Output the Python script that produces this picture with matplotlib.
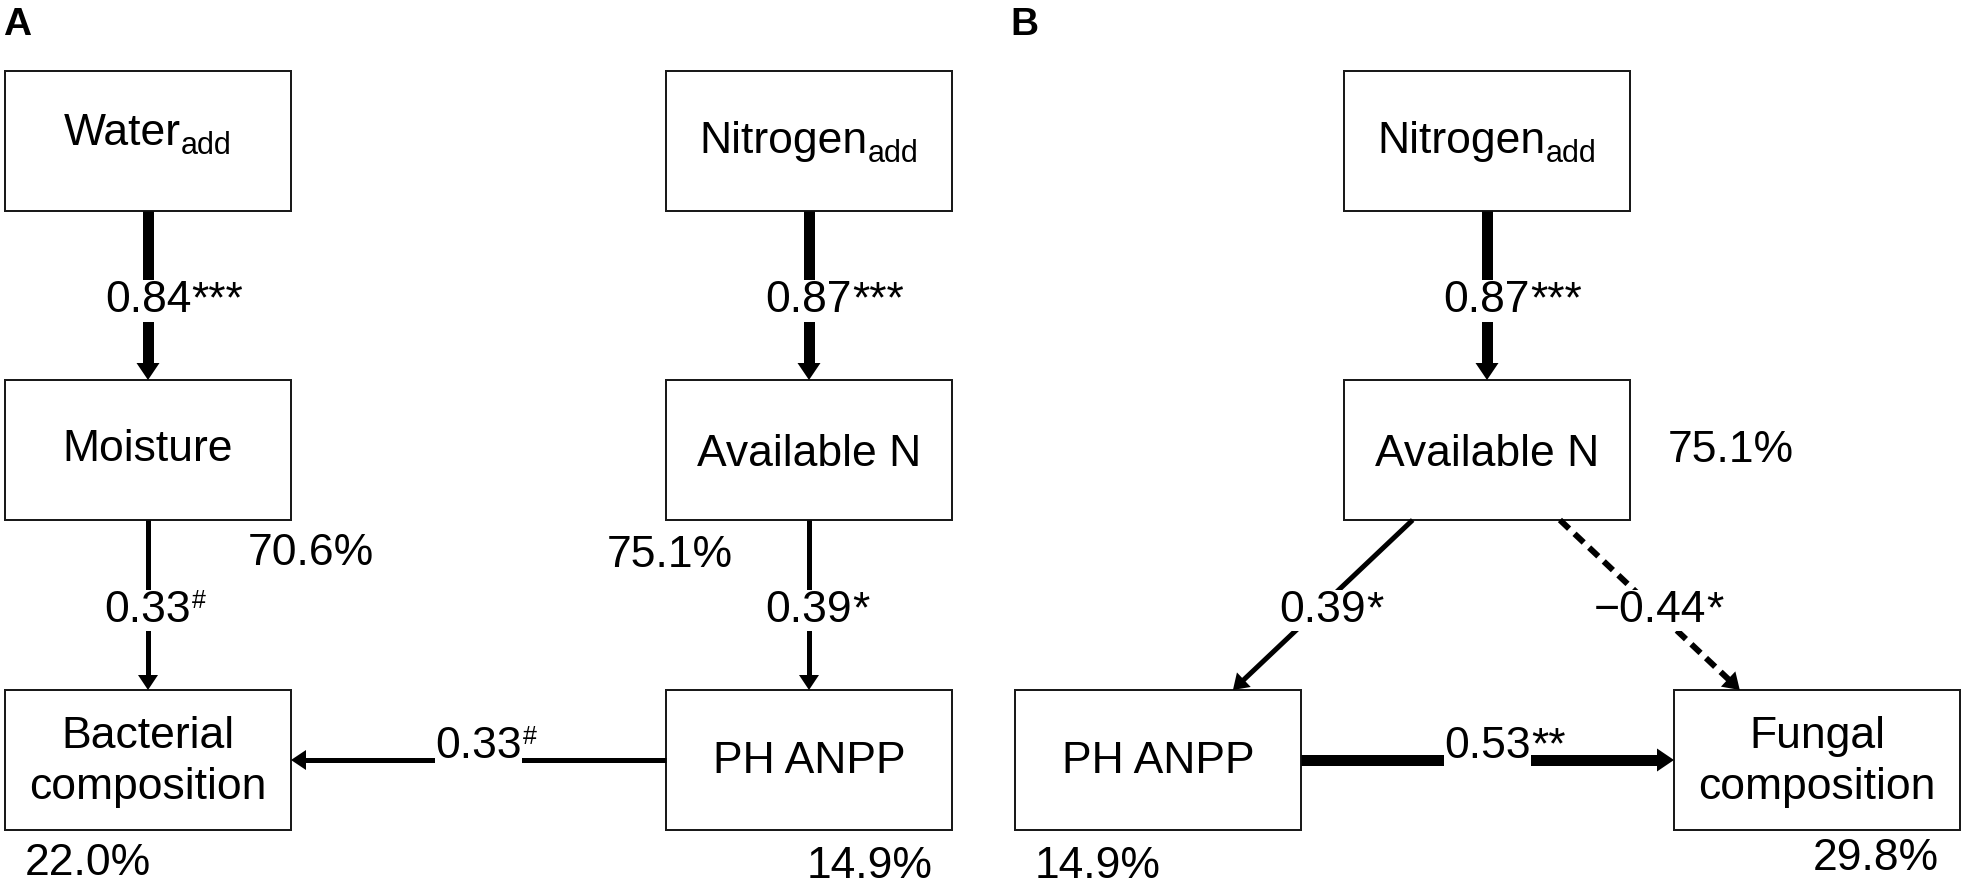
import matplotlib
matplotlib.use("Agg")
import matplotlib.pyplot as plt
from matplotlib.patches import Rectangle, Polygon
import numpy as np

plt.rcParams['font.family'] = ['Liberation Sans', 'DejaVu Sans']

W, H = 1964, 885

# ---------------- data ----------------
panel_letters = ["A", "B"]

node_names = ["Water", "Moisture", "Bacterial\ncomposition",
              "Nitrogen", "Available N", "PH ANPP",
              "Nitrogen", "Available N", "PH ANPP",
              "Fungal\ncomposition"]
node_subs = ["add", "", "", "add", "", "", "add", "", "", ""]

# explained variance (R2) labels
r2_text = ["70.6%", "22.0%", "75.1%", "14.9%", "75.1%", "14.9%", "29.8%"]

# paths: from-node, to-node, coefficient, significance
path_from = [0, 1, 5, 3, 4, 6, 7, 7, 8]
path_to = [1, 2, 2, 4, 5, 7, 8, 9, 9]
path_coef = ["0.84", "0.33", "0.33", "0.87", "0.39", "0.87", "0.39", "\u22120.44", "0.53"]
path_sig = ["***", "#", "#", "***", "*", "***", "*", "*", "**"]

# ---------------- layout (positions / styles) ----------------
BW, BH = 286, 140
node_left = [5, 5, 5, 666, 666, 666, 1344, 1344, 1015, 1674]
node_top = [71, 380, 690, 71, 380, 690, 71, 380, 690, 690]
node_text_dy = [74, 81, 58, 82, 86, 83, 82, 86, 83, 58]
line_gap = 51

panel_letter_pos = [(3, 35), (1010, 35)]
r2_pos = [(248, 565), (25, 875), (607, 567), (807, 878),
          (1668, 462), (1035, 878), (1813, 870)]

path_start = [("bottom", 0.5), ("bottom", 0.5), ("left", 0.5), ("bottom", 0.5),
              ("bottom", 0.5), ("bottom", 0.5), ("bottom", 0.24), ("bottom", 0.755),
              ("right", 0.5)]
path_end = [("top", 0.5), ("top", 0.5), ("right", 0.5), ("top", 0.5),
            ("top", 0.5), ("top", 0.5), ("top", 0.762), ("top", 0.23),
            ("left", 0.5)]
path_style = ["thick", "thin", "thin", "thick", "thin", "thick", "thin", "dashed", "thick"]

PX = 0.72  # points per pixel at dpi=100
style_lw = {"thick": 11, "thin": 5, "dashed": 6}
style_head = {"thick": (17, 11.5), "thin": (15, 10), "dashed": (16, 10.5)}

FS = 32       # main font size (pt)
FS_SUB = 22   # subscript
FS_SUP = 18   # small superscript '#'
CAP = 32      # cap height px

fig = plt.figure(figsize=(W / 100, H / 100), dpi=100)
ax = fig.add_axes([0, 0, 1, 1])
ax.set_xlim(0, W)
ax.set_ylim(H, 0)
ax.axis('off')


def anchor(i, side, frac):
    l, t = node_left[i], node_top[i]
    if side == "bottom":
        return np.array([l + frac * BW, t + BH], float)
    if side == "top":
        return np.array([l + frac * BW, t], float)
    if side == "left":
        return np.array([l, t + frac * BH], float)
    return np.array([l + BW, t + frac * BH], float)


fig.canvas.draw()
renderer = fig.canvas.get_renderer()
inv = ax.transData.inverted()


def width_px(t):
    bb = t.get_window_extent(renderer)
    return bb.x1 - bb.x0


# boxes and their texts
for i, name in enumerate(node_names):
    ax.add_patch(Rectangle((node_left[i], node_top[i]), BW, BH, facecolor="white",
                           edgecolor="#1a1a1a", lw=2 * PX, zorder=1))
    cx = node_left[i] + BW / 2
    by0 = node_top[i] + node_text_dy[i]
    if node_subs[i]:
        tm = ax.text(0, by0, name, ha="left", va="baseline", fontsize=FS, zorder=5)
        ts = ax.text(0, by0 + 9, node_subs[i], ha="left", va="baseline",
                     fontsize=FS_SUB, zorder=5)
        w1, w2 = width_px(tm), width_px(ts)
        x0 = cx - (w1 + w2) / 2
        tm.set_x(x0)
        ts.set_x(x0 + w1)
    else:
        for k, line in enumerate(name.split("\n")):
            ax.text(cx, by0 + k * line_gap, line, ha="center",
                    va="baseline", fontsize=FS, color="black", zorder=5)

# paths
labels = []
for j in range(len(path_from)):
    p0 = anchor(path_from[j], *path_start[j])
    p1 = anchor(path_to[j], *path_end[j])
    st = path_style[j]
    d = (p1 - p0) / np.linalg.norm(p1 - p0)
    n = np.array([-d[1], d[0]])
    hl, hw = style_head[st]
    base = p1 - d * hl
    kw = dict(color="black", lw=style_lw[st] * PX, solid_capstyle="butt", zorder=2)
    if st == "dashed":
        kw.update(ls=(0, (2.1, 1.25)), dash_capstyle="butt")
    ax.plot([p0[0], base[0] + d[0]], [p0[1], base[1] + d[1]], **kw)
    ax.add_patch(Polygon([p1, base + n * hw, base - n * hw], closed=True,
                         facecolor="black", edgecolor="none", zorder=2))
    mid = (p0 + p1) / 2
    if abs(d[1]) < 1e-6:  # horizontal
        bx, by = mid[0], mid[1] - 2
    else:
        bx, by = mid[0], mid[1] + CAP / 2 + 1
    t = ax.text(bx, by, path_coef[j], ha="center", va="baseline", fontsize=FS,
                zorder=4, bbox=dict(facecolor="white", edgecolor="none", pad=0.3))
    labels.append((t, by, path_sig[j]))

fig.canvas.draw()
for t, by, sig in labels:
    bb = t.get_window_extent(renderer)
    x1 = inv.transform((bb.x1, bb.y0))[0]
    if sig == "#":
        ax.text(x1 + 1, by - CAP - 1, sig, ha="left", va="top", fontsize=FS_SUP, zorder=4)
    else:
        ax.text(x1, by, sig, ha="left", va="baseline", fontsize=FS, zorder=4)

# R2 labels
for s, (x, y) in zip(r2_text, r2_pos):
    ax.text(x, y, s, ha="left", va="baseline", fontsize=FS, color="black")

# panel letters
for s, (x, y) in zip(panel_letters, panel_letter_pos):
    ax.text(x, y, s, ha="left", va="baseline", fontsize=28, fontweight="bold")

fig.savefig("out.png", dpi=100)
